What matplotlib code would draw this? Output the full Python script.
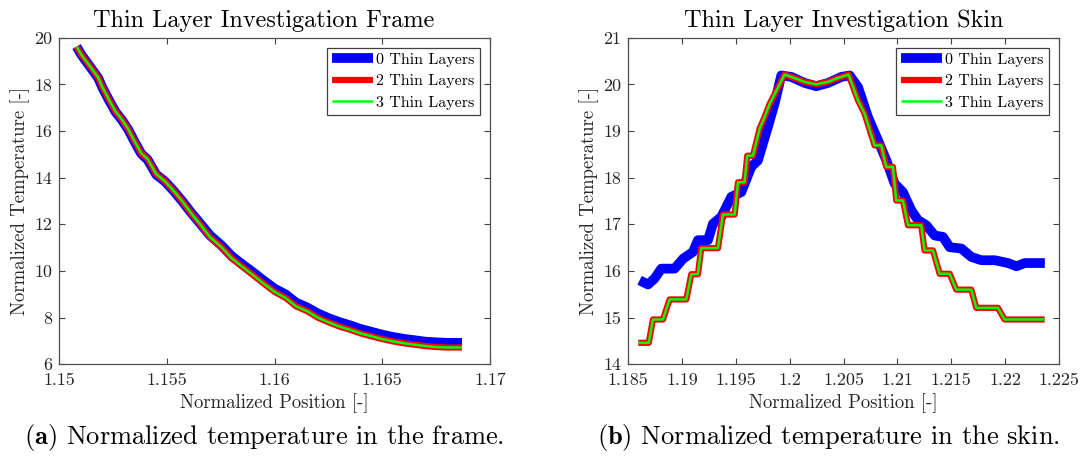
import matplotlib
matplotlib.use("Agg")
import matplotlib.pyplot as plt

plt.rcParams['font.family'] = ['cmr10', 'DejaVu Serif']
plt.rcParams['mathtext.fontset'] = 'cm'
plt.rcParams['axes.formatter.use_mathtext'] = True

# ---------------- data : frame ----------------
frame_pos = [1.1508, 1.1510, 1.1512, 1.1515, 1.1518, 1.1520, 1.1523, 1.1526, 1.1529,
             1.1532, 1.1535, 1.1538, 1.1541, 1.1545, 1.1549, 1.1553, 1.1557, 1.1561,
             1.1565, 1.1570, 1.1575, 1.1580, 1.1585, 1.1590, 1.1595, 1.1600, 1.1605,
             1.1610, 1.1615, 1.1620, 1.1625, 1.1630, 1.1635, 1.1640, 1.1645, 1.1650,
             1.1655, 1.1660, 1.1665, 1.1670, 1.1675, 1.1680, 1.1687]
frame_t0 = [19.62, 19.30, 19.04, 18.66, 18.28, 17.86, 17.33, 16.83, 16.48, 16.06, 15.53,
            15.03, 14.77, 14.13, 13.84, 13.44, 13.00, 12.52, 12.08, 11.52, 11.12, 10.64,
            10.28, 9.94, 9.58, 9.24, 9.00, 8.64, 8.44, 8.18, 7.98, 7.81, 7.67, 7.51,
            7.39, 7.27, 7.17, 7.09, 7.03, 6.97, 6.94, 6.92, 6.92]
frame_t2 = [19.62, 19.30, 19.05, 18.68, 18.30, 17.88, 17.35, 16.85, 16.50, 16.08, 15.55,
            15.05, 14.80, 14.15, 13.85, 13.45, 13.00, 12.50, 12.05, 11.45, 11.05, 10.55,
            10.18, 9.82, 9.45, 9.10, 8.85, 8.48, 8.28, 8.00, 7.80, 7.62, 7.48, 7.32,
            7.20, 7.08, 6.98, 6.90, 6.84, 6.78, 6.74, 6.72, 6.72]
frame_t3 = frame_t2

# ---------------- data : skin ----------------
skin_pos0 = [1.18605, 1.18683, 1.18745, 1.18807, 1.18930, 1.19008, 1.19101, 1.19147,
             1.19240, 1.19286, 1.19364, 1.19457, 1.19550, 1.19642, 1.19704, 1.19797,
             1.19859, 1.19921, 1.20014, 1.20138, 1.20246, 1.20355, 1.20479, 1.20556,
             1.20634, 1.20726, 1.20819, 1.20897, 1.20974, 1.21051, 1.21129, 1.21191,
             1.21268, 1.21346, 1.21423, 1.21485, 1.21594, 1.21687, 1.21780, 1.21904,
             1.22028, 1.22105, 1.22183, 1.22369]
skin_t0 = [15.80, 15.71, 15.84, 16.05, 16.05, 16.26, 16.41, 16.66, 16.66, 17.01, 17.16,
           17.59, 17.69, 18.23, 18.37, 19.09, 19.59, 20.19, 20.16, 20.03, 19.96, 20.03,
           20.16, 20.19, 19.94, 19.30, 18.80, 18.37, 17.87, 17.69, 17.30, 17.09, 16.98,
           16.76, 16.73, 16.51, 16.48, 16.30, 16.23, 16.23, 16.17, 16.10, 16.17, 16.17]

skin_pos2 = [1.18593, 1.18690, 1.18729, 1.18822, 1.18884, 1.19039, 1.19085, 1.19147,
             1.19178, 1.19333, 1.19379, 1.19488, 1.19519, 1.19580, 1.19605, 1.19658,
             1.19720, 1.19766, 1.19813, 1.19952, 1.20050, 1.20140, 1.20246, 1.20350,
             1.20440, 1.20546, 1.20633, 1.20695, 1.20788, 1.20850, 1.20896, 1.20958,
             1.20989, 1.21051, 1.21098, 1.21221, 1.21252, 1.21330, 1.21392, 1.21485,
             1.21546, 1.21686, 1.21732, 1.21933, 1.21995, 1.22367]
skin_t2 = [14.46, 14.46, 14.96, 14.96, 15.39, 15.39, 15.93, 15.93, 16.49, 16.49, 17.21,
           17.21, 17.90, 17.90, 18.47, 18.47, 19.05, 19.30, 19.58, 20.21, 20.13, 20.05,
           20.00, 20.05, 20.13, 20.21, 19.66, 19.37, 18.69, 18.69, 18.23, 18.23, 17.51,
           17.51, 16.98, 16.98, 16.44, 16.44, 15.94, 15.94, 15.60, 15.60, 15.21, 15.21,
           14.96, 14.96]
skin_t3 = skin_t2

frame_xticks = [1.15, 1.155, 1.16, 1.165, 1.17]
frame_xlabels = ["1.15", "1.155", "1.16", "1.165", "1.17"]
frame_yticks = [6, 8, 10, 12, 14, 16, 18, 20]
skin_xticks = [1.185, 1.19, 1.195, 1.2, 1.205, 1.21, 1.215, 1.22, 1.225]
skin_xlabels = ["1.185", "1.19", "1.195", "1.2", "1.205", "1.21", "1.215", "1.22", "1.225"]
skin_yticks = [14, 15, 16, 17, 18, 19, 20, 21]

labels = ["0 Thin Layers", "2 Thin Layers", "3 Thin Layers"]

fig = plt.figure(figsize=(10.81, 4.63), dpi=100)
ax1 = fig.add_axes([0.0549, 0.2132, 0.3984, 0.7054])
ax2 = fig.add_axes([0.5812, 0.2132, 0.3984, 0.7054])

def draw(ax, x0, y0, x2, y2, y3, title, xt, xl, yt, tx):
    ax.plot(x0, y0, color=(0, 0, 1), lw=7, label=labels[0], solid_capstyle='butt')
    ax.plot(x2, y2, color=(1, 0, 0), lw=4.5, label=labels[1], solid_capstyle='butt')
    ax.plot(x2, y3, color=(0, 1, 0), lw=1.8, label=labels[2], solid_capstyle='butt')
    ax.set_xlim(xt[0], xt[-1])
    ax.set_ylim(yt[0], yt[-1])
    ax.set_xticks(xt)
    ax.set_xticklabels(xl)
    ax.set_yticks(yt)
    ax.set_yticklabels([str(v) for v in yt])
    ax.tick_params(direction='in', top=True, right=True, length=4, width=0.8,
                   labelsize=13, colors='#404040', labelcolor='#262626', pad=5)
    ax.tick_params(axis='x', pad=6)
    for s in ax.spines.values():
        s.set_color('#505050')
        s.set_linewidth(0.9)
    ax.set_title(title, fontsize=17.5, pad=8, x=tx)
    ax.set_xlabel("Normalized Position [-]", fontsize=13.5, color='#262626', labelpad=4)
    ax.set_ylabel("Normalized Temperature [-]", fontsize=13.5, color='#262626', labelpad=3)
    leg = ax.legend(loc='upper right', fontsize=11.5, fancybox=False, framealpha=1,
                    edgecolor='#404040', handlelength=2.6, handletextpad=0.2,
                    borderaxespad=0.65, labelspacing=0.45, borderpad=0.3)
    leg.get_frame().set_linewidth(0.9)

draw(ax1, frame_pos, frame_t0, frame_pos, frame_t2, frame_t3,
     "Thin Layer Investigation Frame", frame_xticks, frame_xlabels, frame_yticks, 0.475)
draw(ax2, skin_pos0, skin_t0, skin_pos2, skin_t2, skin_t3,
     "Thin Layer Investigation Skin", skin_xticks, skin_xlabels, skin_yticks, 0.5)

# captions
fig.text(0.244, 0.056, r"$\mathbf{(a)}$ Normalized temperature in the frame.",
         fontsize=19, ha='center', va='center')
fig.text(0.766, 0.056, r"$\mathbf{(b)}$ Normalized temperature in the skin.",
         fontsize=19, ha='center', va='center')

fig.savefig("out.png", dpi=100)
